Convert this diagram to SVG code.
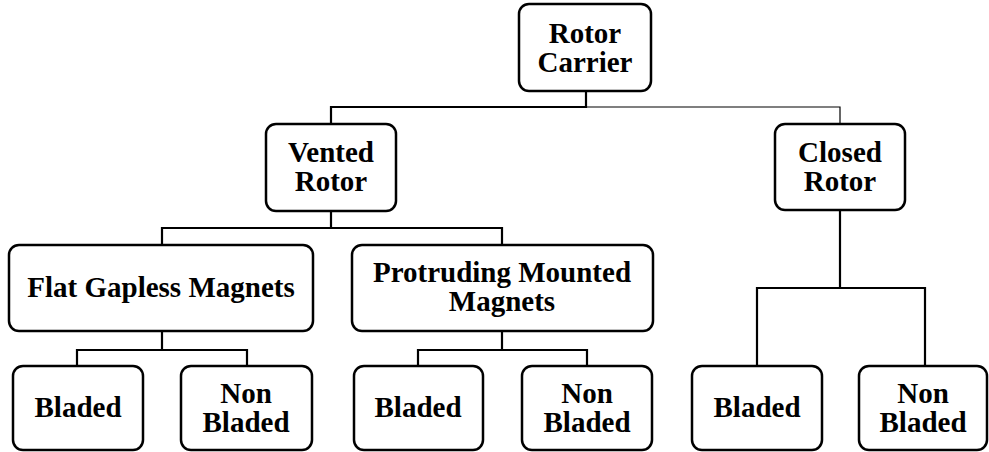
<svg xmlns="http://www.w3.org/2000/svg" width="989" height="452" viewBox="0 0 989 452">
<style>
.box{fill:#fff;stroke:#000;stroke-width:2.5}
.t{font-family:"Liberation Serif","Times New Roman",serif;font-weight:bold;font-size:29px;text-anchor:middle;fill:#000}
.c{fill:none;stroke:#000;stroke-width:2.2}
.thin{fill:none;stroke:#000;stroke-width:1.2}
</style>
<rect width="989" height="452" fill="#fff"/>
<g id="connectors">
<polyline class="c" points="586,91 586,107 331,107 331,124"/>
<polyline class="thin" points="586,107 840,107 840,124"/>
<polyline class="c" points="331,211 331,228 162,228 162,245"/>
<polyline class="c" points="331,228 502,228 502,245"/>
<polyline class="c" points="162,331 162,350 77,350 77,366"/>
<polyline class="c" points="162,350 247,350 247,366"/>
<polyline class="c" points="502,331 502,350 418,350 418,366"/>
<polyline class="c" points="502,350 587,350 587,366"/>
<polyline class="c" points="840,210 840,288 757,288 757,366"/>
<polyline class="c" points="840,288 925,288 925,366"/>
</g>
<g id="rotor-carrier">
<rect class="box" x="519" y="4" width="132" height="87" rx="10"/>
<text class="t" x="585" y="43">Rotor</text>
<text class="t" x="585" y="72">Carrier</text>
</g>
<g id="vented-rotor">
<rect class="box" x="266" y="124" width="130" height="87" rx="10"/>
<text class="t" x="331" y="162">Vented</text>
<text class="t" x="331" y="191">Rotor</text>
</g>
<g id="closed-rotor">
<rect class="box" x="775" y="124" width="130" height="86" rx="10"/>
<text class="t" x="840" y="162">Closed</text>
<text class="t" x="840" y="191">Rotor</text>
</g>
<g id="flat-gapless">
<rect class="box" x="9" y="245" width="304" height="86" rx="10"/>
<text class="t" x="161" y="297">Flat Gapless Magnets</text>
</g>
<g id="protruding">
<rect class="box" x="352" y="245" width="301" height="86" rx="10"/>
<text class="t" x="502" y="282">Protruding Mounted</text>
<text class="t" x="502" y="311">Magnets</text>
</g>
<g id="fg-bladed">
<rect class="box" x="13" y="366" width="130" height="84" rx="10"/>
<text class="t" x="78" y="417">Bladed</text>
</g>
<g id="fg-nonbladed">
<rect class="box" x="181" y="366" width="131" height="84" rx="10"/>
<text class="t" x="246" y="403">Non</text>
<text class="t" x="246" y="432">Bladed</text>
</g>
<g id="pm-bladed">
<rect class="box" x="354" y="366" width="129" height="84" rx="10"/>
<text class="t" x="418" y="417">Bladed</text>
</g>
<g id="pm-nonbladed">
<rect class="box" x="522" y="366" width="130" height="84" rx="10"/>
<text class="t" x="587" y="403">Non</text>
<text class="t" x="587" y="432">Bladed</text>
</g>
<g id="cr-bladed">
<rect class="box" x="692" y="366" width="130" height="84" rx="10"/>
<text class="t" x="757" y="417">Bladed</text>
</g>
<g id="cr-nonbladed">
<rect class="box" x="859" y="366" width="128" height="84" rx="10"/>
<text class="t" x="923" y="403">Non</text>
<text class="t" x="923" y="432">Bladed</text>
</g>
</svg>
